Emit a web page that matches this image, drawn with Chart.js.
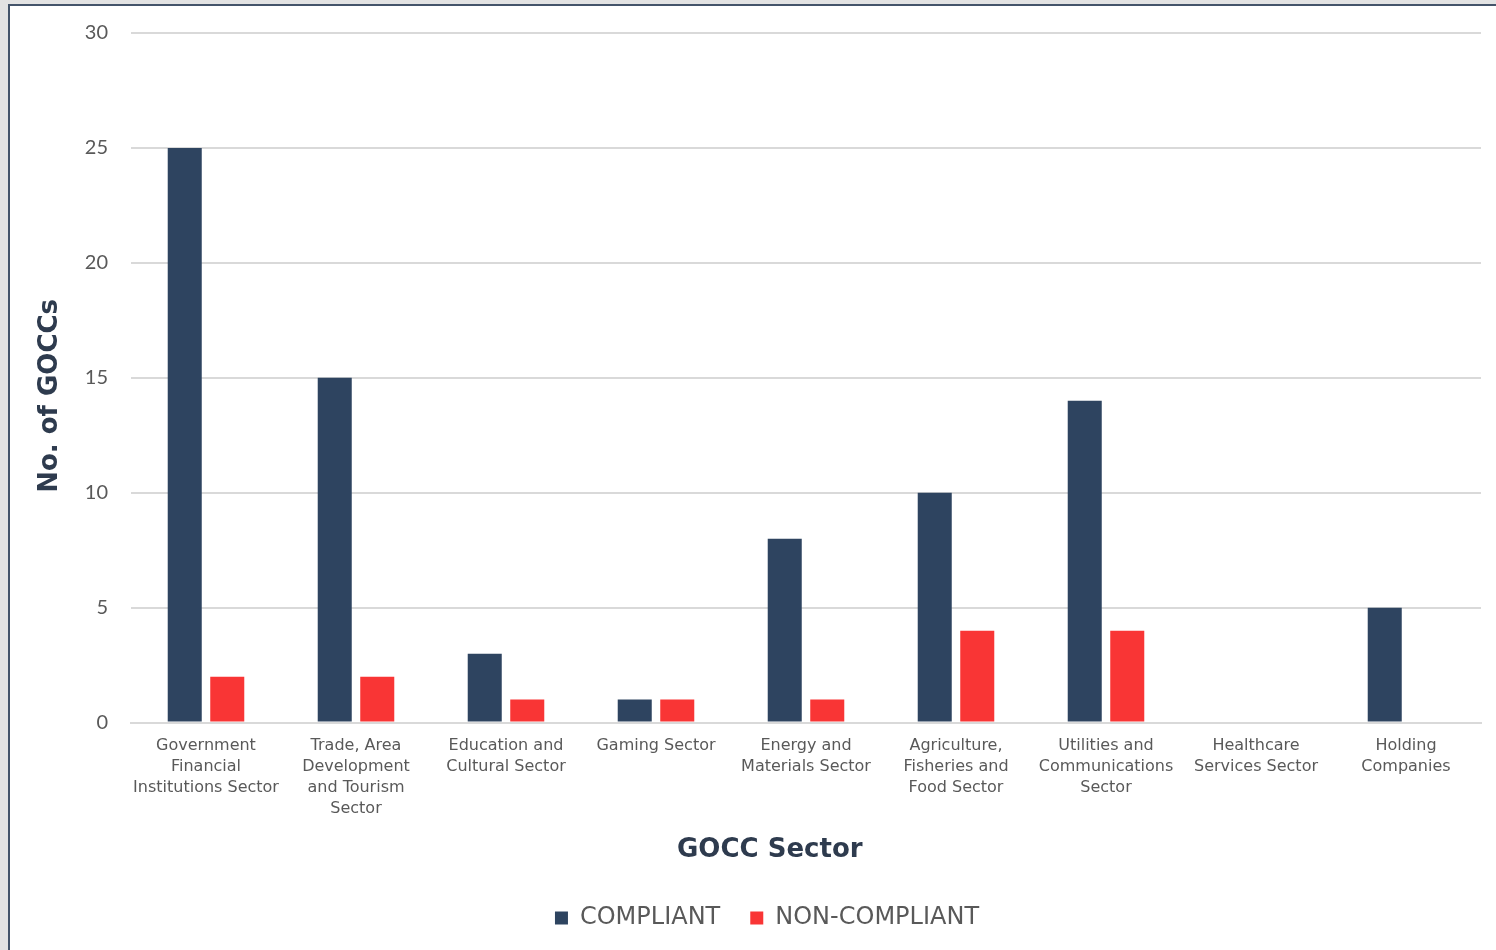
<!DOCTYPE html>
<html>
<head>
<meta charset="utf-8">
<script src="https://cdn.jsdelivr.net/npm/chart.js@4"></script>
<style>
  html, body { margin: 0; padding: 0; background: #e3e3e3; overflow: hidden; }
  #panel {
    position: absolute; left: 8px; top: 4px; width: 1540px; height: 960px;
    background: #fff; border-left: 2px solid #44546a; border-top: 2px solid #44546a;
  }
  #wrap { position: absolute; left: 0; top: 0; width: 1486px; height: 944px; }
</style>
</head>
<body>
<div id="panel"><div id="wrap"><canvas id="chart"></canvas></div></div>
<script>
const sectors = [
    ['Government', 'Financial', 'Institutions Sector'],
    ['Trade, Area', 'Development', 'and Tourism', 'Sector'],
    ['Education and', 'Cultural Sector'],
    ['Gaming Sector'],
    ['Energy and', 'Materials Sector'],
    ['Agriculture,', 'Fisheries and', 'Food Sector'],
    ['Utilities and', 'Communications', 'Sector'],
    ['Healthcare', 'Services Sector'],
    ['Holding', 'Companies']
]
const compliant = [25, 15, 3, 1, 8, 10, 14, 0, 5]
const nonCompliant = [2, 2, 1, 1, 1, 4, 4, 0, 0]
const yTicks = [0, 5, 10, 15, 20, 25, 30]

const navy = '#2e4460'
const red = '#f93535'
const gridColor = '#d9d9d9'
const textGray = '#595959'
const titleColor = '#2e3b4e'
const labelFont = '"DejaVu Sans", sans-serif'

const ctx = document.getElementById('chart').getContext('2d')

const chart = new Chart(ctx, {
    type: 'bar',
    data: {
        labels: sectors,
        datasets: [
            {
                label: 'COMPLIANT',
                data: compliant,
                backgroundColor: navy,
                categoryPercentage: 0.567,
                barPercentage: 0.8
            },
            {
                label: 'NON-COMPLIANT',
                data: nonCompliant,
                backgroundColor: red,
                categoryPercentage: 0.567,
                barPercentage: 0.8
            }
        ]
    },
    options: {
        responsive: true,
        maintainAspectRatio: false,
        animation: false,
        layout: {
            // left padding shifts the legend to where the original has it
            padding: { top: 27, right: 15, bottom: 10, left: 43 }
        },
        plugins: {
            tooltip: { enabled: false },
            legend: {
                position: 'bottom',
                labels: {
                    boxWidth: 13,
                    boxHeight: 13,
                    padding: 30,
                    color: textGray,
                    font: { family: labelFont, size: 24 }
                }
            }
        },
        scales: {
            x: {
                grid: { display: false, drawTicks: false },
                border: { color: gridColor, width: 2 },
                ticks: {
                    color: textGray,
                    maxRotation: 0,
                    autoSkip: false,
                    padding: 13,
                    font: { family: labelFont, size: 16, lineHeight: 1.3 }
                },
                title: {
                    display: true,
                    // trailing spaces pull the title left, like the original
                    text: 'GOCC Sector        ',
                    color: titleColor,
                    padding: { top: 3, bottom: 10 },
                    font: { family: labelFont, size: 26, weight: 'bold' }
                }
            },
            y: {
                min: 0,
                max: 30,
                afterBuildTicks: (scale) => {
                    scale.ticks = yTicks.map(v => ({ value: v }))
                },
                afterFit: (scale) => {
                    scale.width = 78
                    scale.paddingTop = 0
                    scale.paddingBottom = 0
                },
                grid: { color: gridColor, lineWidth: 2, drawTicks: false },
                border: { display: false },
                ticks: {
                    color: textGray,
                    padding: 23,
                    font: { family: '"Lato", sans-serif', size: 20 }
                },
                title: {
                    display: true,
                    text: 'No. of GOCCs    ',
                    color: titleColor,
                    padding: { top: -18, bottom: 0 },
                    font: { family: labelFont, size: 26, weight: 'bold' }
                }
            }
        }
    }
})
</script>
</body>
</html>
